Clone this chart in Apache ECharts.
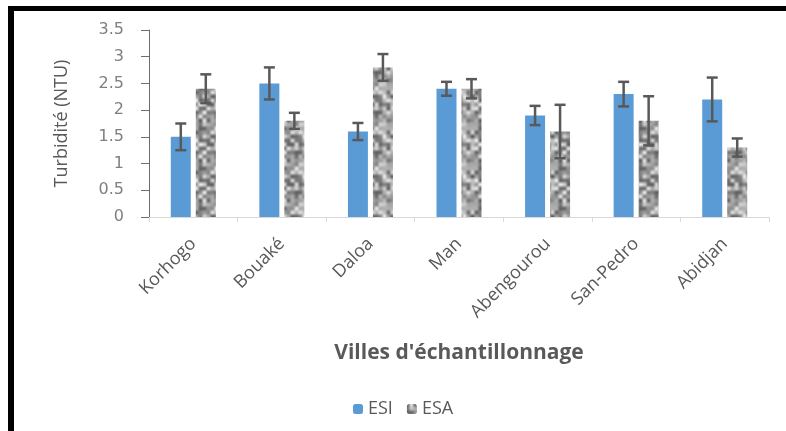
<!DOCTYPE html>
<html>
<head>
<meta charset="utf-8">
<script src="https://cdn.jsdelivr.net/npm/echarts@6/dist/echarts.min.js"></script>
<style>
  html, body { margin: 0; padding: 0; background: #fff; }
  #main { width: 786px; height: 431px; }
</style>
</head>
<body>
<div id="main"></div>
<script>
var cities = ['Korhogo', 'Bouaké', 'Daloa', 'Man', 'Abengourou', 'San-Pedro', 'Abidjan'];
var esi = [1.5, 2.5, 1.6, 2.4, 1.9, 2.3, 2.2];
var esiErr = [0.25, 0.3, 0.16, 0.13, 0.18, 0.23, 0.41];
var esa = [2.4, 1.8, 2.8, 2.4, 1.6, 1.8, 1.3];
var esaErr = [0.27, 0.15, 0.25, 0.18, 0.5, 0.46, 0.17];

// grey blotchy texture for the ESA bars (smoothed hash noise, tileable)
function makeTexture() {
    var size = 40, cell = 4, n = size / cell;
    function h(i, j) {
        i = (i + n) % n; j = (j + n) % n;
        var s = Math.sin(i * 12.9898 + j * 78.233) * 43758.5453;
        return s - Math.floor(s);
    }
    var c = document.createElement('canvas');
    c.width = size; c.height = size;
    var ctx = c.getContext('2d');
    var img = ctx.createImageData(size, size);
    for (var y = 0; y < size; y++) {
        for (var x = 0; x < size; x++) {
            var gx = x / cell, gy = y / cell;
            var i = Math.floor(gx), j = Math.floor(gy);
            var fx = gx - i, fy = gy - j;
            fx = fx * fx * (3 - 2 * fx); fy = fy * fy * (3 - 2 * fy);
            var v = h(i, j) * (1 - fx) * (1 - fy) + h(i + 1, j) * fx * (1 - fy) +
                    h(i, j + 1) * (1 - fx) * fy + h(i + 1, j + 1) * fx * fy;
            var g = Math.round(95 + v * 140);
            var k = (y * size + x) * 4;
            img.data[k] = g; img.data[k + 1] = g; img.data[k + 2] = g; img.data[k + 3] = 255;
        }
    }
    ctx.putImageData(img, 0, 0);
    return c;
}
var texture = makeTexture();

function errorItem(values, errs, offset) {
    return function (params, api) {
        var i = api.value(0);
        var hi = api.coord([i, values[i] + errs[i]]);
        var lo = api.coord([i, values[i] - errs[i]]);
        var x = hi[0] + offset;
        var style = { stroke: '#595959', lineWidth: 2.5 };
        return {
            type: 'group',
            children: [
                { type: 'line', shape: { x1: x, y1: hi[1], x2: x, y2: lo[1] }, style: style },
                { type: 'line', shape: { x1: x - 5.5, y1: hi[1], x2: x + 5.5, y2: hi[1] }, style: style },
                { type: 'line', shape: { x1: x - 5.5, y1: lo[1], x2: x + 5.5, y2: lo[1] }, style: style }
            ]
        };
    };
}

var chart = echarts.init(document.getElementById('main'));
chart.setOption({
    animation: false,
    backgroundColor: '#fff',
    textStyle: { fontFamily: 'Open Sans', color: '#595959' },
    grid: { left: 149, right: 17, top: 30, bottom: 214 },
    legend: {
        data: ['ESI', 'ESA'],
        left: 348, top: 395,
        itemWidth: 10, itemHeight: 10, itemGap: 14,
        textStyle: { color: '#595959', fontSize: 18, fontFamily: 'Open Sans' }
    },
    xAxis: {
        type: 'category',
        data: cities,
        name: "Villes d'échantillonnage",
        nameLocation: 'middle',
        nameGap: 126,
        nameTextStyle: { fontSize: 21, fontWeight: 'bold', color: '#595959' },
        axisLine: { lineStyle: { color: '#d9d9d9', width: 1 } },
        axisTick: { show: true, length: 5, lineStyle: { color: '#d9d9d9' } },
        axisLabel: { rotate: 45, margin: 24, fontSize: 18, color: '#595959' }
    },
    yAxis: {
        type: 'value',
        min: 0, max: 3.5, interval: 0.5,
        name: 'Turbidité (NTU)',
        nameLocation: 'middle',
        nameGap: 78,
        nameTextStyle: { fontSize: 18, color: '#595959' },
        axisLine: { show: true, lineStyle: { color: '#6d6d6d', width: 1 } },
        axisTick: { show: true, length: 8, lineStyle: { color: '#6d6d6d' } },
        axisLabel: { margin: 25, fontSize: 16, color: '#7f7f7f', fontFamily: 'DejaVu Sans' },
        splitLine: { show: false }
    },
    series: [
        {
            name: 'ESI', type: 'bar', data: esi,
            barWidth: 20, barGap: '25%',
            itemStyle: { color: '#5b9bd5' }
        },
        {
            name: 'ESA', type: 'bar', data: esa,
            barWidth: 20,
            itemStyle: { color: { image: texture, repeat: 'repeat' } }
        },
        {
            type: 'custom', name: 'errESI',
            data: cities.map(function (c, i) { return [i, esi[i] + esiErr[i]]; }),
            renderItem: errorItem(esi, esiErr, -12.5), z: 10, silent: true
        },
        {
            type: 'custom', name: 'errESA',
            data: cities.map(function (c, i) { return [i, esa[i] + esaErr[i]]; }),
            renderItem: errorItem(esa, esaErr, 12.5), z: 10, silent: true
        }
    ],
    graphic: [
        { type: 'rect', shape: { x: 8, y: 6, width: 778, height: 5 }, style: { fill: '#000' } },
        { type: 'rect', shape: { x: 8, y: 6, width: 6, height: 425 }, style: { fill: '#000' } }
    ]
});
</script>
</body>
</html>
